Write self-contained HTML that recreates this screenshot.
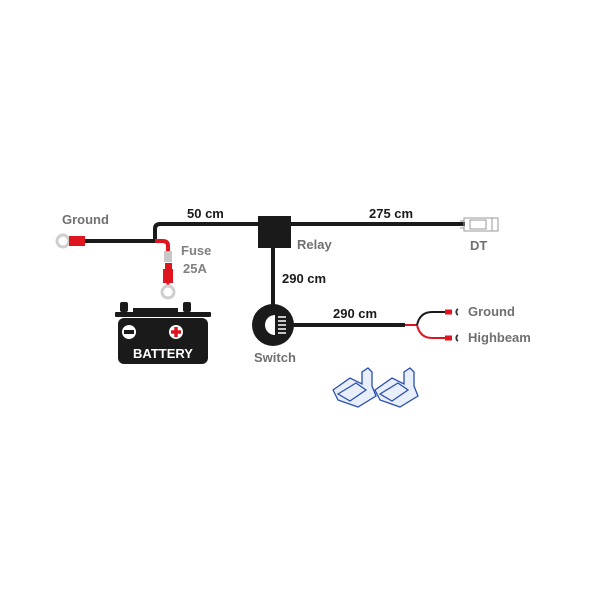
<!DOCTYPE html>
<html><head><style>
body{margin:0;background:#fff;}
svg{display:block}
text{font-family:"Liberation Sans",sans-serif;font-weight:bold;font-size:13px;}
</style></head><body>
<svg width="600" height="600" viewBox="0 0 600 600">
<!-- main wires -->
<path d="M155 241 V229 Q155 224 160 224 H465" stroke="#1a1a1a" stroke-width="4" fill="none"/>
<path d="M84 241 H155" stroke="#1a1a1a" stroke-width="4" fill="none"/>
<path d="M155 241 H163 Q168 241 168 246 V262" stroke="#e0141e" stroke-width="4" fill="none"/>
<rect x="164" y="251" width="8" height="11" fill="#c8c8c8"/>
<rect x="165" y="263" width="7" height="6" fill="#e0141e"/>
<rect x="163" y="269" width="10" height="14" fill="#e0141e"/>
<rect x="166.5" y="282" width="3" height="4" fill="#e0141e"/>
<circle cx="168" cy="292" r="6" fill="none" stroke="#cfcfcf" stroke-width="3"/>
<!-- ground ring -->
<circle cx="63" cy="241" r="6" fill="none" stroke="#cfcfcf" stroke-width="3"/>
<rect x="69" y="236" width="16" height="10" fill="#e0141e"/>
<!-- relay -->
<rect x="258" y="216" width="33" height="32" fill="#1a1a1a"/>
<path d="M273 248 V310" stroke="#1a1a1a" stroke-width="4"/>
<!-- switch -->
<circle cx="273" cy="325" r="21" fill="#1a1a1a"/>
<path d="M275 315 A10 10 0 0 0 275 335 Z" fill="#fff"/>
<g stroke="#fff" stroke-width="1.6"><path d="M278 317 H286 M278 321 H286 M278 325 H286 M278 329 H286 M278 333 H286"/></g>
<path d="M290 325 H405" stroke="#1a1a1a" stroke-width="4"/>
<path d="M405 325 H417" stroke="#e0141e" stroke-width="2"/>
<path d="M417 325 Q420 312 432 312 H448" stroke="#1a1a1a" stroke-width="2" fill="none"/>
<path d="M417 325 Q420 338 432 338 H448" stroke="#e0141e" stroke-width="2" fill="none"/>
<rect x="445" y="309.5" width="7" height="5" fill="#e0141e"/>
<rect x="445" y="335.5" width="7" height="5" fill="#e0141e"/>
<path d="M458 309 A3.5 3.5 0 0 0 458 315" stroke="#333" stroke-width="1.8" fill="none"/>
<path d="M458 335 A3.5 3.5 0 0 0 458 341" stroke="#333" stroke-width="1.8" fill="none"/>
<!-- DT -->
<g stroke="#999" stroke-width="1" fill="none">
<rect x="464" y="218" width="34" height="13"/>
<rect x="470" y="220" width="16" height="9"/>
<path d="M492 218 V231 M464 221 H460 M464 228 H460"/>
</g>
<!-- battery -->
<rect x="120" y="302" width="8" height="10" rx="2" fill="#1a1a1a"/>
<rect x="183" y="302" width="8" height="10" rx="2" fill="#1a1a1a"/>
<rect x="133" y="308" width="45" height="4" fill="#1a1a1a"/>
<rect x="115" y="312" width="96" height="5" rx="1" fill="#1a1a1a"/>
<rect x="118" y="318" width="90" height="46" rx="6" fill="#1a1a1a"/>
<circle cx="129" cy="332" r="7" fill="#fff"/>
<rect x="124" y="330" width="10" height="4" fill="#1a1a1a"/>
<circle cx="176" cy="332" r="7" fill="#fff"/>
<path d="M176 327 V337 M171 332 H181" stroke="#e0141e" stroke-width="3.5"/>
<text x="163" y="358" fill="#fff" font-size="13" text-anchor="middle">BATTERY</text>
<!-- clips -->
<g stroke="#2a4fb0" stroke-width="1.3" fill="#e8eefa">
<path d="M333 390 L350 378 L362 384 L362 372 L368 368 L372 372 L372 386 L376 396 L358 407 L338 400 Z"/>
<path d="M338 394 L356 383 L366 390 L350 401 Z" fill="none"/>
<path d="M375 390 L392 378 L404 384 L404 372 L410 368 L414 372 L414 386 L418 396 L400 407 L380 400 Z"/>
<path d="M380 394 L398 383 L408 390 L392 401 Z" fill="none"/>
</g>
<!-- labels -->
<text x="62" y="224" fill="#707070">Ground</text>
<text x="187" y="218" fill="#1a1a1a">50 cm</text>
<text x="369" y="218" fill="#1a1a1a">275 cm</text>
<text x="297" y="249" fill="#707070">Relay</text>
<text x="470" y="250" fill="#707070">DT</text>
<text x="181" y="255" fill="#808080">Fuse</text>
<text x="183" y="273" fill="#808080">25A</text>
<text x="282" y="283" fill="#1a1a1a">290 cm</text>
<text x="333" y="318" fill="#1a1a1a">290 cm</text>
<text x="254" y="362" fill="#707070">Switch</text>
<text x="468" y="316" fill="#707070">Ground</text>
<text x="468" y="342" fill="#707070">Highbeam</text>
</svg>
</body></html>
